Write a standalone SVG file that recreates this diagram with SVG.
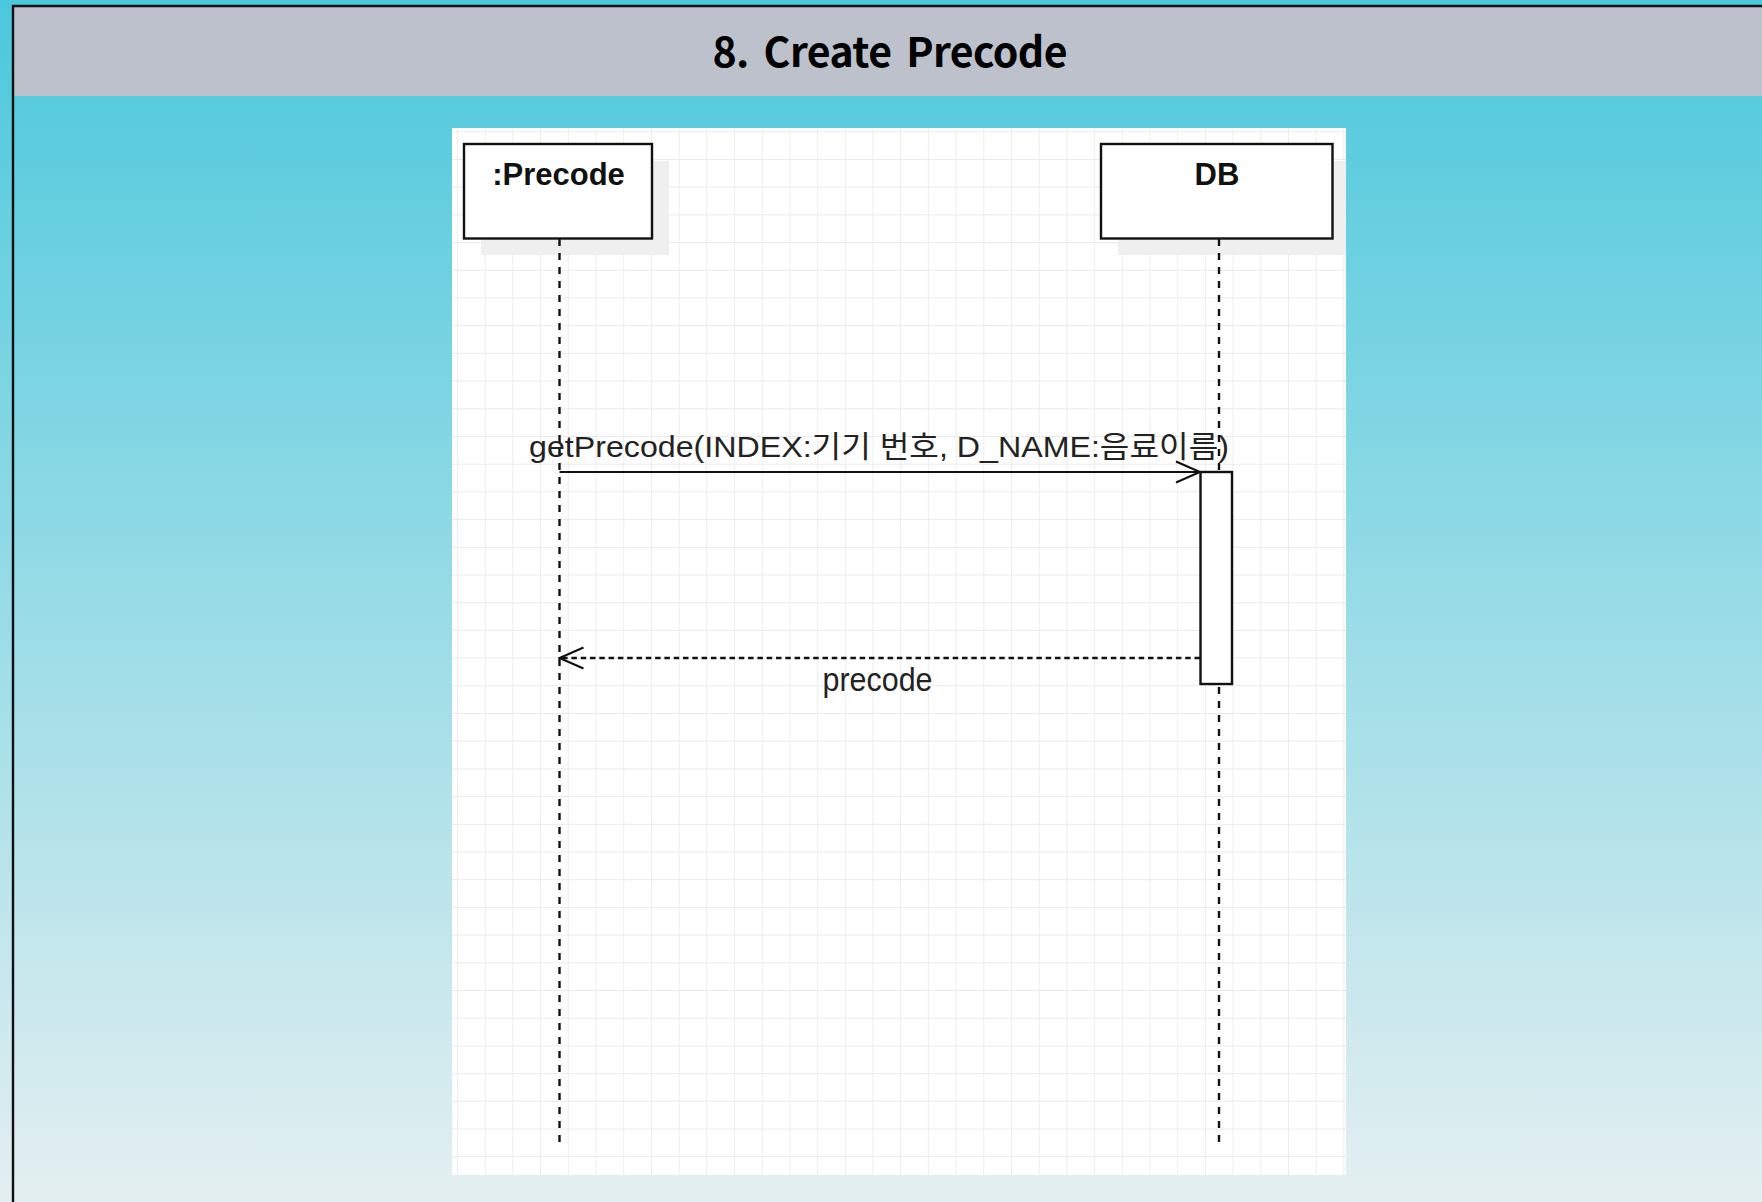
<svg xmlns="http://www.w3.org/2000/svg" width="1762" height="1202" viewBox="0 0 1762 1202">
  <defs>
    <linearGradient id="bg" x1="0" y1="0" x2="0" y2="1202" gradientUnits="userSpaceOnUse">
      <stop offset="0" stop-color="#4bc8dc"/>
      <stop offset="1" stop-color="#e4eff1"/>
    </linearGradient>
    <pattern id="grid" x="457" y="131.3" width="27.7" height="27.7" patternUnits="userSpaceOnUse">
      <path d="M0 0 H27.7 M0 0 V27.7" fill="none" stroke="#e4e4e4" stroke-width="1.3"/>
    </pattern>
    <clipPath id="canvasClip">
      <rect x="452" y="128" width="894" height="1047"/>
    </clipPath>
    <marker id="open" viewBox="-26 -13 28 26" refX="0" refY="0" markerWidth="28" markerHeight="26" markerUnits="userSpaceOnUse" orient="auto">
      <path d="M-24 -10.5 L0 0 L-24 10.5" fill="none" stroke="#111" stroke-width="2.2"/>
    </marker>
    <style>
      .box { fill: #ffffff; stroke: #111; stroke-width: 2.4; }
      .shadow { fill: #efefef; }
      .lifeline { stroke: #111; stroke-width: 2.4; stroke-dasharray: 7 7; fill: none; }
      .msg { stroke: #111; stroke-width: 2.2; fill: none; }
      .ret { stroke: #111; stroke-width: 2.4; fill: none; stroke-dasharray: 5.5 3.8; }
      .name { font-family: "Liberation Sans", Arial, sans-serif; font-weight: bold; font-size: 31px; fill: #111; text-anchor: middle; }
      .label { font-family: "Liberation Sans", "Noto Sans CJK KR", sans-serif; fill: #222; }
      .title { font-family: "Noto Sans CJK KR", "Noto Sans", sans-serif; font-weight: bold; font-size: 41px; fill: #000; text-anchor: middle; word-spacing: 6px; }
    </style>
  </defs>

  <!-- background -->
  <rect x="0" y="0" width="1762" height="1202" fill="url(#bg)"/>
  <rect x="13" y="6" width="1749" height="90" fill="#bcc1cc"/>
  <path d="M13 1202 V6 H1762" fill="none" stroke="#111" stroke-width="2.4"/>
  <text class="title" x="890" y="67" textLength="355" lengthAdjust="spacing">8. Create Precode</text>

  <!-- canvas -->
  <rect x="452" y="128" width="894" height="1047" fill="#ffffff"/>
  <rect x="452" y="128" width="894" height="1047" fill="url(#grid)"/>

  <!-- shadows -->
  <g clip-path="url(#canvasClip)">
    <rect class="shadow" x="481" y="161" width="188" height="94"/>
    <rect class="shadow" x="1118" y="161" width="232" height="94"/>
  </g>

  <!-- connectors -->
  <g id="connectors">
    <line class="lifeline" x1="559.5" y1="239" x2="559.5" y2="1146"/>
    <line class="lifeline" x1="1219" y1="239" x2="1219" y2="1146"/>
    <line class="msg" x1="559.5" y1="472" x2="1200" y2="472" marker-end="url(#open)"/>
    <line class="ret" x1="1200" y1="658" x2="559.5" y2="658" marker-end="url(#open)"/>
    <text class="label" x="529" y="457" font-size="30" textLength="700" lengthAdjust="spacingAndGlyphs">getPrecode(INDEX:기기 번호, D_NAME:음료이름)</text>
    <text class="label" x="822.5" y="691" font-size="33" fill="#333" textLength="110" lengthAdjust="spacingAndGlyphs">precode</text>
  </g>

  <!-- nodes -->
  <g id="node-precode">
    <rect class="box" x="464" y="144" width="188" height="94.5"/>
    <text class="name" x="558.5" y="184.5">:Precode</text>
  </g>
  <g id="node-db">
    <rect class="box" x="1101" y="144" width="231.5" height="94.5"/>
    <text class="name" x="1217" y="184.5">DB</text>
  </g>
  <g id="node-activation">
    <rect class="box" x="1200.5" y="472" width="31.5" height="212"/>
  </g>
</svg>
